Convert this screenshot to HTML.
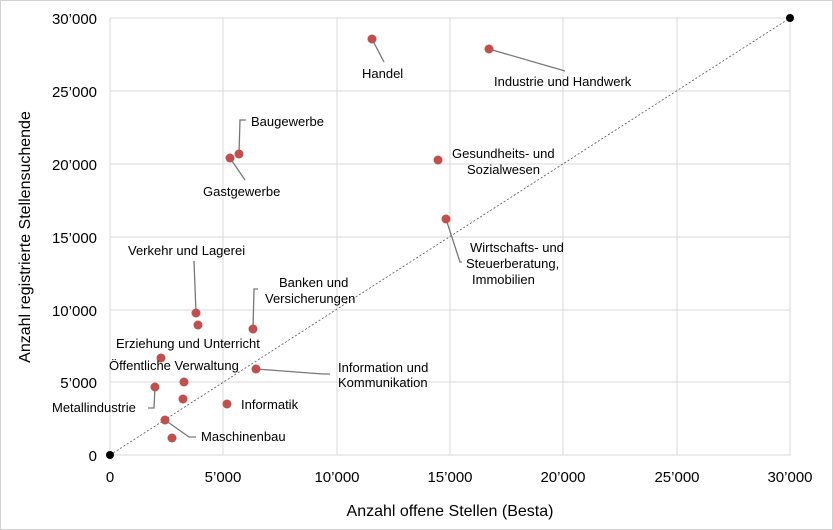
<!DOCTYPE html>
<html><head><style>
html,body{margin:0;padding:0;background:#fff}
svg{display:block;font-family:"Liberation Sans",sans-serif}
</style></head><body>
<svg width="833" height="530" viewBox="0 0 833 530">
<rect x="0.5" y="0.5" width="832" height="529" fill="#fff" stroke="#d0d0d0"/>
<g stroke="#d9d9d9" stroke-width="1">
<line x1="110" y1="18" x2="110" y2="455"/>
<line x1="223" y1="18" x2="223" y2="455"/>
<line x1="337" y1="18" x2="337" y2="455"/>
<line x1="450" y1="18" x2="450" y2="455"/>
<line x1="563" y1="18" x2="563" y2="455"/>
<line x1="677" y1="18" x2="677" y2="455"/>
<line x1="790" y1="18" x2="790" y2="455"/>
<line x1="110" y1="18" x2="790" y2="18"/>
<line x1="110" y1="91" x2="790" y2="91"/>
<line x1="110" y1="164" x2="790" y2="164"/>
<line x1="110" y1="237" x2="790" y2="237"/>
<line x1="110" y1="310" x2="790" y2="310"/>
<line x1="110" y1="382" x2="790" y2="382"/>
<line x1="110" y1="455" x2="790" y2="455"/>
</g>
<line x1="110" y1="455" x2="790" y2="18" stroke="#555" stroke-width="0.8" stroke-dasharray="2,2"/>
<g fill="#000" font-size="15" text-anchor="end">
<text x="97" y="24">30’000</text><text x="97" y="97">25’000</text><text x="97" y="170">20’000</text>
<text x="97" y="243">15’000</text><text x="97" y="316">10’000</text><text x="97" y="388">5’000</text><text x="97" y="461">0</text>
</g>
<g fill="#000" font-size="15" text-anchor="middle">
<text x="110" y="482">0</text><text x="223" y="482">5’000</text><text x="337" y="482">10’000</text>
<text x="450" y="482">15’000</text><text x="563" y="482">20’000</text><text x="677" y="482">25’000</text><text x="790" y="482">30’000</text>
<text x="450" y="516" font-size="16">Anzahl offene Stellen (Besta)</text>
<text transform="translate(30,237) rotate(-90)" font-size="16">Anzahl registrierte Stellensuchende</text>
</g>
<g stroke="#777" stroke-width="1.3" fill="none">
<line x1="372" y1="39" x2="384" y2="62"/>
<line x1="489" y1="49" x2="565" y2="71"/>
<polyline points="239,154 240,120 246,120"/>
<line x1="230" y1="158" x2="245" y2="180"/>
<polyline points="446,219 460,262 462,262"/>
<polyline points="196,313 194,261"/>
<polyline points="253,329 254,289 258,289"/>
<polyline points="256,369 323,374 330,374"/>
<polyline points="155,387 154,408 148,408"/>
<polyline points="165,420 189,437 196,437"/>
</g>
<g fill="#c0504d">
<circle cx="372" cy="39" r="4.5"/><circle cx="489" cy="49" r="4.5"/><circle cx="239" cy="154" r="4.5"/>
<circle cx="230" cy="158" r="4.5"/><circle cx="438" cy="160" r="4.5"/><circle cx="446" cy="219" r="4.5"/>
<circle cx="196" cy="313" r="4.5"/><circle cx="198" cy="325" r="4.5"/><circle cx="253" cy="329" r="4.5"/>
<circle cx="161" cy="358" r="4.5"/><circle cx="184" cy="382" r="4.5"/><circle cx="256" cy="369" r="4.5"/>
<circle cx="155" cy="387" r="4.5"/><circle cx="183" cy="399" r="4.5"/><circle cx="227" cy="404" r="4.5"/>
<circle cx="165" cy="420" r="4.5"/><circle cx="172" cy="438" r="4.5"/>
</g>
<circle cx="110" cy="455" r="4" fill="#000"/><circle cx="790" cy="18" r="4" fill="#000"/>
<g fill="#000" font-size="13">
<text x="362" y="78">Handel</text>
<text x="494" y="86">Industrie und Handwerk</text>
<text x="251" y="126">Baugewerbe</text>
<text x="203" y="196">Gastgewerbe</text>
<text x="452" y="158">Gesundheits- und</text>
<text x="467" y="174">Sozialwesen</text>
<text x="470" y="252">Wirtschafts- und</text>
<text x="466" y="268">Steuerberatung,</text>
<text x="472" y="284">Immobilien</text>
<text x="128" y="255">Verkehr und Lagerei</text>
<text x="279" y="287">Banken und</text>
<text x="265" y="303">Versicherungen</text>
<text x="116" y="348">Erziehung und Unterricht</text>
<text x="109" y="370">Öffentliche Verwaltung</text>
<text x="338" y="372">Information und</text>
<text x="338" y="387">Kommunikation</text>
<text x="52" y="412">Metallindustrie</text>
<text x="241" y="409">Informatik</text>
<text x="201" y="441">Maschinenbau</text>
</g>
</svg>
</body></html>
